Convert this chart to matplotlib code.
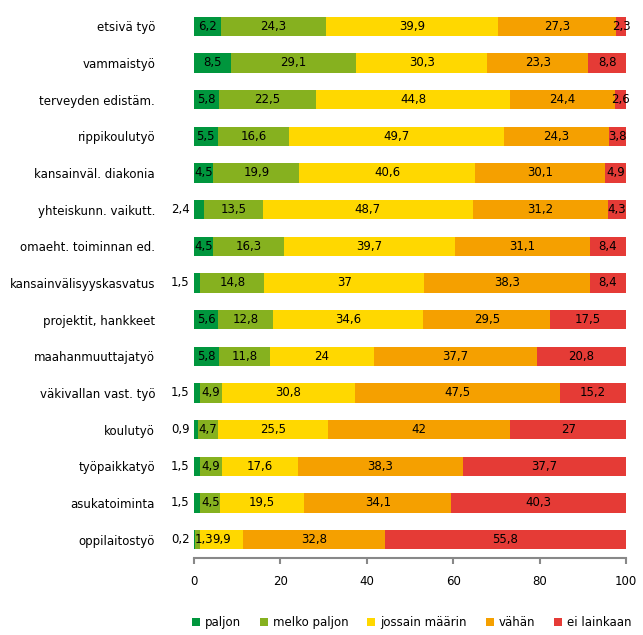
import numpy as np
import matplotlib.pyplot as plt

# categories, top to bottom
categories = ['etsivä työ', 'vammaistyö', 'terveyden edistäm.', 'rippikoulutyö',
              'kansainväl. diakonia', 'yhteiskunn. vaikutt.', 'omaeht. toiminnan ed.',
              'kansainvälisyyskasvatus', 'projektit, hankkeet', 'maahanmuuttajatyö',
              'väkivallan vast. työ', 'koulutyö', 'työpaikkatyö', 'asukatoiminta',
              'oppilaitostyö']

paljon = [6.2, 8.5, 5.8, 5.5, 4.5, 2.4, 4.5, 1.5, 5.6, 5.8, 1.5, 0.9, 1.5, 1.5, 0.2]
melko_paljon = [24.3, 29.1, 22.5, 16.6, 19.9, 13.5, 16.3, 14.8, 12.8, 11.8, 4.9, 4.7, 4.9, 4.5, 1.3]
jossain = [39.9, 30.3, 44.8, 49.7, 40.6, 48.7, 39.7, 37, 34.6, 24, 30.8, 25.5, 17.6, 19.5, 9.9]
vahan = [27.3, 23.3, 24.4, 24.3, 30.1, 31.2, 31.1, 38.3, 29.5, 37.7, 47.5, 42, 38.3, 34.1, 32.8]
ei_lainkaan = [2.3, 8.8, 2.6, 3.8, 4.9, 4.3, 8.4, 8.4, 17.5, 20.8, 15.2, 27, 37.7, 40.3, 55.8]

series = [paljon, melko_paljon, jossain, vahan, ei_lainkaan]
names = ['paljon', 'melko paljon', 'jossain määrin', 'vähän', 'ei lainkaan']
colors = ['#00963d', '#86b11f', '#ffd800', '#f5a000', '#e53b36']


def fmt(v):
    if float(v).is_integer():
        return str(int(v))
    return ('%.1f' % v).replace('.', ',')


fig = plt.figure(figsize=(6.43, 6.35), dpi=100)
ax = fig.add_axes([0.3017, 0.1213, 0.6719, 0.8661])

y = np.arange(len(categories))
left = np.zeros(len(categories))
for k, (vals, name, col) in enumerate(zip(series, names, colors)):
    vals = np.array(vals, dtype=float)
    ax.barh(y, vals, left=left, height=0.52, color=col, label=name, zorder=2)
    for i, v in enumerate(vals):
        if k == 0 and v < 3:
            ax.text(-1.0, y[i], fmt(v), ha='right', va='center', fontsize=8.5, clip_on=False)
        elif v < 2:
            # tiny segment: start label at bar base
            ax.text(0.1, y[i], fmt(v), ha='left', va='center', fontsize=8.5,
                    clip_on=False, zorder=5)
        else:
            ax.text(left[i] + v / 2, y[i], fmt(v), ha='center', va='center',
                    fontsize=8.5, clip_on=False, zorder=5)
    left += vals

ax.set_xlim(0, 100)
ax.set_ylim(len(categories) - 0.5, -0.5)
ax.set_yticks(y)
ax.set_yticklabels(categories, fontsize=8.5)
ax.tick_params(axis='y', length=0, pad=28)
ax.set_xticks([0, 20, 40, 60, 80, 100])
ax.tick_params(axis='x', length=4, width=1.5, color='#888888', labelsize=8.5, pad=8)

for s in ['top', 'right', 'left']:
    ax.spines[s].set_visible(False)
ax.spines['bottom'].set_color('#888888')
ax.spines['bottom'].set_linewidth(1.5)

fig.legend(loc='lower center', bbox_to_anchor=(0.64, -0.008), ncol=5, frameon=False,
           fontsize=8.5, handlelength=0.7, handleheight=0.7, handletextpad=0.4,
           columnspacing=1.6)

fig.savefig('out.png', dpi=100)
